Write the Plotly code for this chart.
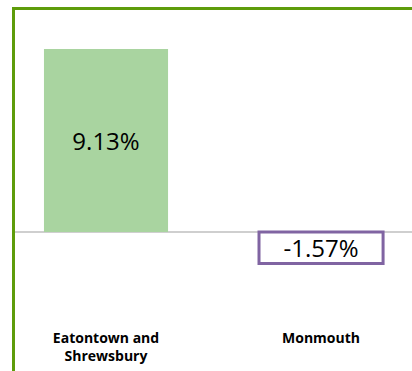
import plotly.graph_objects as go

# Change in value by area
categories = ["Eatontown and<br>Shrewsbury", "Monmouth"]
values = [9.13, -1.57]

fill_colors = ["#A9D4A0", "#FFFFFF"]
outline_colors = ["#A9D4A0", "#8064A2"]
outline_widths = [0, 3]

W, H = 412, 371
M_TOP, M_BOT = 10, 49

fig = go.Figure(
    go.Bar(
        x=categories,
        y=values,
        width=0.577,
        marker=dict(color=fill_colors,
                    line=dict(color=outline_colors, width=outline_widths)),
        texttemplate="%{y:.2f}%",
        textposition="inside",
        insidetextanchor="middle",
        constraintext="none",
        textangle=0,
        textfont=dict(family="Open Sans", size=24, color="#000000"),
        hoverinfo="skip",
    )
)

fig.update_layout(
    width=W,
    height=H,
    margin=dict(l=0, r=0, t=M_TOP, b=M_BOT, pad=0),
    paper_bgcolor="white",
    plot_bgcolor="white",
    showlegend=False,
    xaxis=dict(
        range=[-0.493, 1.423],
        showgrid=False,
        showline=False,
        zeroline=False,
        ticks="",
        ticklabelstandoff=6,
        tickfont=dict(family="Open Sans", size=14, color="#000000", weight="bold"),
    ),
    yaxis=dict(
        range=[-4.49, 11.08],
        showgrid=False,
        showticklabels=False,
        zeroline=False,
        showline=False,
        ticks="",
    ),
)

# Baseline at zero, starting just inside the frame
fig.add_shape(type="line", xref="paper", yref="y",
              x0=15 / W, x1=1.0, y0=0, y1=0,
              line=dict(color="#BFBFBF", width=1.5), layer="below")

# Chart frame: top and left edges
plot_h = H - M_TOP - M_BOT
def py(pixel_y):
    return (H - M_BOT - pixel_y) / plot_h

frame_color = "#5E9C0A"
fig.add_shape(type="line", xref="paper", yref="paper",
              x0=12 / W, x1=1.0, y0=py(8.5), y1=py(8.5),
              line=dict(color=frame_color, width=3), layer="above")
fig.add_shape(type="line", xref="paper", yref="paper",
              x0=13.5 / W, x1=13.5 / W, y0=py(7), y1=py(H + 2),
              line=dict(color=frame_color, width=3), layer="above")

fig.write_html("out.html")
